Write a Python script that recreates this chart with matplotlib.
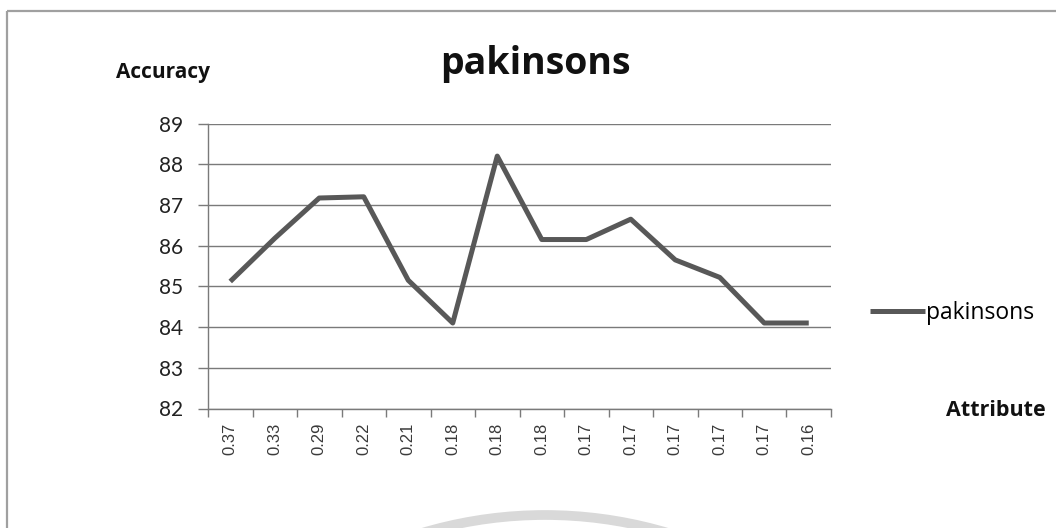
import matplotlib
matplotlib.use("Agg")
import matplotlib.pyplot as plt
from matplotlib.patches import Arc, Rectangle
from matplotlib.ticker import FixedLocator, NullFormatter

# Accuracy obtained for each attribute-threshold step
attributes = ["0.37", "0.33", "0.29", "0.22", "0.21", "0.18", "0.18",
              "0.18", "0.17", "0.17", "0.17", "0.17", "0.17", "0.16"]
accuracy = [85.12, 86.18, 87.17, 87.2, 85.15, 84.1, 88.2,
            86.15, 86.15, 86.65, 85.65, 85.22, 84.1, 84.1]
y_ticks = [82, 83, 84, 85, 86, 87, 88, 89]
series_name = "pakinsons"

W, H = 1056, 528
fig = plt.figure(figsize=(W / 100, H / 100), dpi=100)
fig.patch.set_facecolor("white")

# Background layer in pixel units: frame and faint arc
bg = fig.add_axes([0, 0, 1, 1], zorder=0)
bg.set_xlim(0, W)
bg.set_ylim(H, 0)
bg.axis("off")
bg.add_patch(Rectangle((7, 11), 1100, 600, fill=False, edgecolor="#a0a0a0", lw=1.6))
bg.add_patch(Arc((545, 945), 860, 860, theta1=240, theta2=300,
                 color="#d9d9d9", lw=7))

ax = fig.add_axes([208 / W, 1 - 408.5 / H, 623 / W, 285 / H], zorder=1)
ax.set_facecolor("none")

x = list(range(len(attributes)))
ax.plot(x, accuracy, color="#585858", lw=3.6, solid_joinstyle="round",
        solid_capstyle="butt", label=series_name, zorder=3)

ax.set_xlim(-0.5, len(attributes) - 0.5)
ax.set_ylim(min(y_ticks), max(y_ticks))
ax.set_yticks(y_ticks)
ax.yaxis.grid(True, color="#7a7a7a", lw=1.0)
ax.set_axisbelow(True)

ax.xaxis.set_major_locator(FixedLocator([i - 0.5 for i in range(len(attributes) + 1)]))
ax.xaxis.set_major_formatter(NullFormatter())
ax.xaxis.set_minor_locator(FixedLocator(x))
ax.set_xticklabels(attributes, minor=True, rotation=90,
                   fontfamily="Liberation Sans", fontsize=12, color="#3a3a3a")
ax.tick_params(axis="x", which="major", direction="out", length=6,
               color="#7a7a7a", width=1)
ax.tick_params(axis="x", which="minor", length=0, pad=10)
ax.tick_params(axis="y", direction="out", length=7, color="#7a7a7a", width=1,
               labelsize=15, pad=11)
for lab in ax.get_yticklabels():
    lab.set_fontfamily("Lato")
    lab.set_color("#222222")

for side in ("top", "right"):
    ax.spines[side].set_visible(False)
for side in ("left", "bottom"):
    ax.spines[side].set_color("#7a7a7a")
    ax.spines[side].set_linewidth(1)

fig.text(535 / W, 1 - 64 / H, series_name, ha="center", va="center",
         fontfamily="Open Sans", fontweight="bold", fontsize=27, color="#111111")
fig.text(163 / W, 1 - 73 / H, "Accuracy", ha="center", va="center",
         fontfamily="Open Sans", fontweight="bold", fontsize=15, color="#111111")
fig.text(996 / W, 1 - 411 / H, "Attribute", ha="center", va="center",
         fontfamily="Open Sans", fontweight="bold", fontsize=15.5, color="#111111")

fig.legend(loc="center left", bbox_to_anchor=(870 / W, 1 - 313 / H),
           frameon=False, handlelength=2.4, handletextpad=0.05,
           prop={"family": "Open Sans", "size": 16.5}, borderaxespad=0,
           borderpad=0)

fig.savefig("out.png", dpi=100)
